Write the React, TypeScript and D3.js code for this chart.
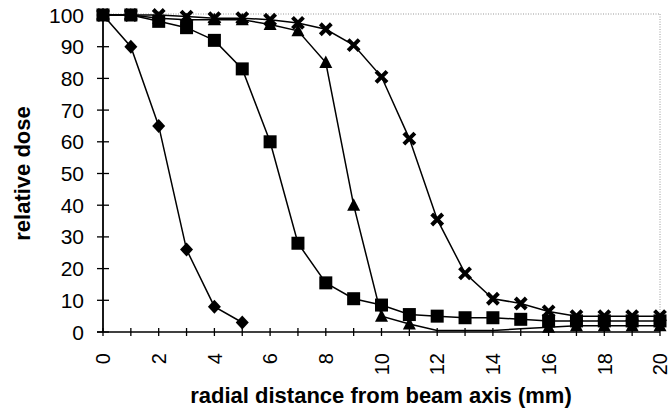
import React from "react";
import * as d3 from "d3";

const xTicks = [0, 2, 4, 6, 8, 10, 12, 14, 16, 18, 20];
const yTicks = [0, 10, 20, 30, 40, 50, 60, 70, 80, 90, 100];

const diamondValues = [100, 90, 65, 26, 8, 3];
const squareValues = [100, 100, 98, 96, 92, 83, 60, 28, 15.5, 10.5, 8.5, 5.5, 5, 4.5, 4.5, 4, 3.5, 3.5, 3.5, 3.5, 3.5];
const triangleValues = [100, 100, 99, 98.5, 98.5, 98.5, 97, 95, 85, 40, 5, 2.5, 0.5, 0.5, 0.5, 1, 1.5, 2, 2, 2, 2];
const crossValues = [100, 100, 100, 99.5, 99, 99, 98.5, 97.5, 95.5, 90.5, 80.5, 61, 35.5, 18.5, 10.5, 9, 6.5, 5, 5, 5, 5];

const W = 672;
const H = 411;
const left = 103;
const right = 660;
const top = 15;
const bottom = 332;

const x = d3.scaleLinear().domain([0, 20]).range([left, right]);
const y = d3.scaleLinear().domain([0, 100]).range([bottom, top]);

const lineGen = d3
  .line<number>()
  .x((_, i) => x(i))
  .y((d) => y(d));

const font = "Arial, 'Liberation Sans', sans-serif";

function Marker({ type, cx, cy }: { type: string; cx: number; cy: number }) {
  if (type === "diamond") {
    return <path d={`M${cx},${cy - 7} L${cx + 6.5},${cy} L${cx},${cy + 7} L${cx - 6.5},${cy} Z`} fill="#000" />;
  }
  if (type === "square") {
    return <rect x={cx - 6.5} y={cy - 6.5} width={13} height={13} fill="#000" />;
  }
  if (type === "triangle") {
    return <path d={`M${cx},${cy - 7} L${cx + 6.5},${cy + 5.5} L${cx - 6.5},${cy + 5.5} Z`} fill="#000" />;
  }
  return (
    <path
      d={`M${cx - 5.5},${cy - 5.5} L${cx + 5.5},${cy + 5.5} M${cx - 5.5},${cy + 5.5} L${cx + 5.5},${cy - 5.5}`}
      stroke="#000"
      strokeWidth={4}
      fill="none"
    />
  );
}

const series = [
  { values: diamondValues, type: "diamond", minMarked: -1 },
  { values: squareValues, type: "square", minMarked: -1 },
  { values: triangleValues, type: "triangle", minMarked: 1.5 },
  { values: crossValues, type: "cross", minMarked: -1 },
];

export default function App() {
  const minorTicks = d3.range(0, 21);
  return (
    <svg
      width={W}
      height={H}
      style={{ position: "absolute", left: 0, top: 0, background: "#fff" }}
      fontFamily={font}
    >
      <rect x={0} y={0} width={W} height={H} fill="#fff" />
      {/* dotted frame */}
      <line x1={left} x2={right} y1={top - 1} y2={top - 1} stroke="#999" strokeWidth={1} strokeDasharray="1,1.5" />
      <line x1={right} x2={right} y1={top - 1} y2={bottom} stroke="#999" strokeWidth={1} strokeDasharray="1,1.5" />

      {/* y axis */}
      <line x1={left} x2={left} y1={top} y2={bottom} stroke="#000" strokeWidth={1.8} />
      {yTicks.map((t) => (
        <g key={"yt" + t}>
          <line x1={left - 6} x2={left + 6} y1={y(t)} y2={y(t)} stroke="#000" strokeWidth={1.3} />
          <text x={84} y={y(t)} dy="0.36em" textAnchor="end" fontSize={21} fill="#000">
            {t}
          </text>
        </g>
      ))}

      {/* x axis */}
      <line x1={left - 6} x2={right} y1={bottom} y2={bottom} stroke="#000" strokeWidth={1.4} />
      {minorTicks.map((t) => (
        <line key={"xt" + t} x1={x(t)} x2={x(t)} y1={bottom - 4} y2={bottom + 4} stroke="#000" strokeWidth={1.3} />
      ))}
      {xTicks.map((t) => (
        <text
          key={"xl" + t}
          transform={`translate(${x(t)},353) rotate(-90)`}
          dy="0.36em"
          textAnchor="end"
          fontSize={20}
          fill="#000"
        >
          {t}
        </text>
      ))}

      {/* series */}
      {series.map((s, si) => (
        <g key={"s" + si}>
          <path d={lineGen(s.values) || ""} fill="none" stroke="#000" strokeWidth={1.5} />
          {s.values.map((v, i) =>
            v >= s.minMarked ? <Marker key={i} type={s.type} cx={x(i)} cy={y(v)} /> : null
          )}
        </g>
      ))}

      {/* axis titles */}
      <text
        transform={`translate(30,${(top + bottom) / 2}) rotate(-90)`}
        textAnchor="middle"
        fontSize={22}
        fontWeight="bold"
        fill="#000"
      >
        relative dose
      </text>
      <text x={381} y={403} textAnchor="middle" fontSize={22} fontWeight="bold" fill="#000">
        radial distance from beam axis (mm)
      </text>
    </svg>
  );
}
